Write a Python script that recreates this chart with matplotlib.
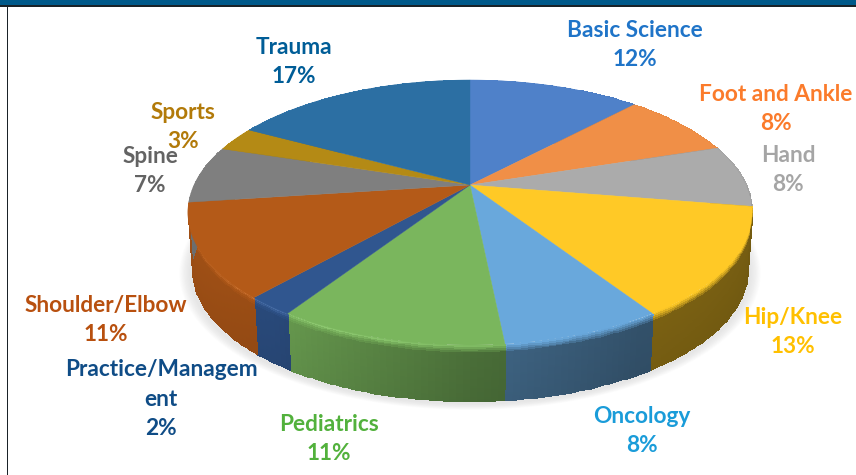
import numpy as np
import matplotlib
matplotlib.use('Agg')
import matplotlib.pyplot as plt
from matplotlib.patches import Polygon, Rectangle

plt.rcParams['font.family'] = ['Lato', 'DejaVu Sans']

# clockwise from 12 o'clock, slice sizes, printed labels are rounded
categories = ['Basic Science', 'Foot and Ankle', 'Hand', 'Hip/Knee', 'Oncology', 'Pediatrics',
              'Practice/Managem\nent', 'Shoulder/Elbow', 'Spine', 'Sports', 'Trauma']
shares = [12.0, 8.0, 7.6, 13.2, 7.6, 10.8, 2.3, 11.4, 7.0, 3.0, 17.1]
percent_labels = ['12%', '8%', '8%', '13%', '8%', '11%', '2%', '11%', '7%', '3%', '17%']

top_colors = ['#4f81c9', '#f08f47', '#ababab', '#ffc926', '#69a8dc', '#7ab65d',
              '#30568f', '#b45a18', '#7f7f7f', '#b48a15', '#2c6fa3']
text_colors = ['#1f74c8', '#fb7b2b', '#a5a5a5', '#ffc000', '#1a9cd9', '#52b13c',
               '#0f4c86', '#b8500f', '#636363', '#b27a09', '#005d97']
label_pos = [(635, 45), (776, 109), (788, 170), (793, 332), (642, 431), (329, 439),
             (161, 399), (106, 320), (150, 171), (183, 127), (294, 62)]

# perspective of the disc, in pixels
cx, cy = 470, 185
kx, ky, tilt = 276, 126.8, 0.2075
depth = 56
bottom_scale = 0.985


def project(theta, r=1.0):
    x = r * np.sin(theta)
    y = r * np.cos(theta)
    w = 1 + tilt * y
    return cx + kx * x / w, cy - ky * y / w


def side_factor(theta):
    return np.interp(np.sin(theta), [-1, -0.6, 0, 0.5, 1], [0.93, 0.88, 0.63, 0.5, 0.48])


fig = plt.figure(figsize=(8.56, 4.75), dpi=100)
ax = fig.add_axes([0, 0, 1, 1])
ax.set_xlim(0, 856)
ax.set_ylim(475, 0)
ax.axis('off')

# page furniture
ax.add_patch(Rectangle((0, 0), 856, 5, color='#00598a', lw=0))
ax.add_patch(Rectangle((0, 5), 856, 1.5, color='#1a2228', lw=0))
ax.add_patch(Rectangle((6.8, 5), 1.5, 470, color='#1a2228', lw=0))

# soft shadow under the disc
ring = np.linspace(0, 2 * np.pi, 240)
for grow in np.linspace(1.03, 0.995, 10):
    sx, sy = project(ring)
    sx = cx + (sx - cx) * grow
    sy = cy + depth + 4 + (sy - cy) * grow
    ax.add_patch(Polygon(np.column_stack([sx, sy]), closed=True, fc='#b8b8b8', ec='none',
                         alpha=0.035, zorder=1))

edges = 2 * np.pi * np.cumsum([0] + shares) / np.sum(shares)

# side wall, shaded by angle and blended into the top colour along the rim
levels = np.linspace(0, 1, 31)
for i, col in enumerate(top_colors):
    base = np.array(matplotlib.colors.to_rgb(col))
    n = max(int((edges[i + 1] - edges[i]) / 0.02), 2)
    th = np.linspace(edges[i], edges[i + 1], n + 1)
    px, py = project(th)
    X = np.outer(np.ones(len(levels)), px)
    X = cx + (X - cx) * (1 + np.outer(levels, np.ones(n + 1)) * (bottom_scale - 1))
    Y = np.outer(np.ones(len(levels)), py) + np.outer(levels, np.ones(n + 1)) * depth
    mid = 0.5 * (th[:-1] + th[1:])
    rgb = np.zeros((len(levels) - 1, n, 3))
    for j in range(len(levels) - 1):
        lev = 0.5 * (levels[j] + levels[j + 1])
        blend = np.clip(lev / 0.15, 0, 1) ** 1.3
        f = 1 + (side_factor(mid) * (0.97 - 0.05 * lev) - 1) * blend
        # thin highlight just under the rim on the lit side
        lit = np.clip(-np.sin(mid) + 0.35, 0, 1) * np.exp(-((lev - 0.02) / 0.03) ** 2)
        rgb[j] = np.outer(f, base) + 0.1 * lit[:, None]
    ax.pcolormesh(X, Y, np.clip(rgb, 0, 1), shading='flat', edgecolors='face', linewidth=0.4,
                  zorder=2)

# top face, from the apex out to the rim
for i, col in enumerate(top_colors):
    th = np.linspace(edges[i], edges[i + 1], 80)
    px, py = project(th)
    pts = np.vstack([[cx, cy], np.column_stack([px, py])])
    ax.add_patch(Polygon(pts, closed=True, fc=col, ec=col, lw=0.3, zorder=3))

for name, pct, col, (tx, ty) in zip(categories, percent_labels, text_colors, label_pos):
    ax.text(tx, ty, name + '\n' + pct, color=col, ha='center', va='center', fontsize=16.3,
            fontweight='bold', linespacing=1.52, zorder=5)

fig.savefig('out.png', dpi=100)
